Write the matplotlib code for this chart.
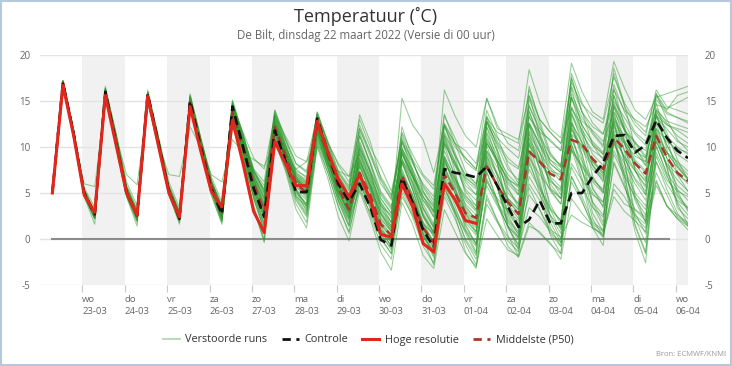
import numpy as np
import pandas as pd
import matplotlib
matplotlib.use("Agg")
import matplotlib.pyplot as plt
from matplotlib.patches import Rectangle

plt.rcParams['font.family'] = ['Open Sans', 'DejaVu Sans']

# time axis: 6-hourly from 22-03 07:00 local time
times = pd.date_range("2022-03-22 07:00", periods=61, freq="6h")

day_names = ["wo", "do", "vr", "za", "zo", "ma", "di", "wo", "do", "vr", "za", "zo", "ma", "di", "wo"]
day_dates = ["23-03", "24-03", "25-03", "26-03", "27-03", "28-03", "29-03", "30-03",
             "31-03", "01-04", "02-04", "03-04", "04-04", "05-04", "06-04"]

# controle run (black dashed)
control = [5.0, 17.0, 11.5,
           5.0, 2.7, 16.0, 10.5,
           5.0, 2.6, 15.8, 10.5,
           5.2, 2.2, 15.0, 10.0,
           5.5, 2.7, 14.4, 10.0,
           5.5, 2.4, 11.8, 8.5,
           5.1, 5.1, 13.1, 9.5,
           6.0, 4.1, 6.0, 3.5,
           -0.1, -0.7, 6.6, 4.0,
           1.0, -0.9, 7.6, 7.2,
           7.0, 6.7, 7.9, 5.8,
           3.5, 1.3, 2.1, 4.2,
           1.7, 1.7, 5.0, 5.0,
           6.8, 8.3, 11.2, 11.3,
           9.4, 10.2, 12.9, 11.0,
           9.6, 8.8]

# hoge resolutie run (red), ends after 10 days
hres = [5.0, 16.7, 11.3,
        4.8, 2.9, 15.6, 10.3,
        5.0, 2.6, 15.5, 10.2,
        5.0, 2.4, 14.4, 9.6,
        5.2, 3.5, 12.9, 8.2,
        3.0, 0.7, 10.6, 8.2,
        5.8, 5.8, 12.8, 9.5,
        6.5, 4.6, 7.0, 4.3,
        0.5, 0.2, 6.0, 3.5,
        -0.5, -1.4, 6.0, 4.3,
        2.0, 1.7]

# middelste (P50)
p50 = [5.0, 17.0, 11.5,
       5.0, 2.6, 15.9, 10.7,
       5.2, 2.5, 15.6, 10.5,
       5.3, 2.4, 15.0, 10.3,
       5.8, 2.9, 13.8, 10.0,
       6.0, 3.0, 12.2, 9.0,
       6.0, 5.0, 12.6, 9.2,
       5.6, 3.2, 7.2, 4.8,
       1.6, 0.4, 6.9, 4.2,
       1.2, -0.4, 7.0, 5.0,
       2.8, 2.3, 7.9, 5.8,
       4.0, 2.7, 9.5, 8.4,
       7.1, 6.5, 10.8, 10.3,
       8.7, 7.6, 11.0, 9.8,
       8.2, 7.1, 11.2, 8.9,
       7.2, 6.3]

# verstoorde runs (green)
perturbed = [
    [5.0, 17.0, 11.6, 5.1, 2.7, 16.0, 10.9, 5.2, 2.6, 15.7, 10.6, 5.4, 2.5, 15.2, 10.4, 5.9, 2.9, 14.0, 10.2,
     6.2, 3.2, 12.4, 9.2, 6.3, 5.2, 12.8, 9.4, 5.8, 3.6, 7.8, 5.2, 2.3, 0.8, 8.2, 5.4, 2.4, 0.2, 8.6, 6.0,
     3.4, 2.2, 8.8, 6.4, 4.4, 3.2, 10.2, 8.4, 6.8, 5.6, 11.4, 10.2, 8.6, 7.2, 11.8, 10.4, 8.4, 7.2, 11.6, 9.4,
     7.8, 6.6],
    [5.0, 16.8, 11.2, 4.8, 2.4, 15.8, 10.6, 5.0, 2.2, 15.4, 10.2, 5.0, 2.0, 14.8, 10.0, 5.4, 2.4, 13.2, 9.4,
     5.2, 1.8, 11.2, 8.2, 5.0, 3.8, 11.6, 8.4, 4.6, 2.2, 6.4, 3.8, 0.8, -0.8, 6.2, 3.6, 0.4, -1.6, 5.4, 3.2,
     1.0, -0.4, 5.8, 3.6, 1.4, 0.2, 6.8, 4.8, 2.6, 1.2, 7.8, 5.6, 3.4, 2.4, 9.2, 6.8, 4.6, 3.2, 8.4, 6.0,
     4.2, 3.4],
    [5.0, 17.1, 11.7, 5.2, 2.8, 16.4, 11.2, 5.6, 2.8, 15.9, 10.8, 5.6, 2.6, 15.6, 10.8, 6.4, 3.4, 14.8, 11.4,
     7.6, 5.0, 13.6, 10.8, 8.2, 7.4, 13.6, 10.6, 8.0, 6.2, 12.0, 9.0, 6.4, 4.2, 11.6, 9.2, 7.0, 5.8, 12.6, 10.4,
     9.6, 8.2, 13.2, 11.6, 11.0, 10.4, 18.4, 14.8, 12.0, 11.0, 19.1, 16.0, 13.8, 13.0, 19.3, 16.4, 14.0, 13.0,
     15.4, 15.8, 16.2, 16.6],
    [5.0, 16.9, 11.4, 4.6, 1.6, 15.4, 10.4, 4.6, 1.4, 15.0, 10.0, 4.8, 1.8, 14.4, 9.6, 4.8, 1.6, 12.8, 8.6,
     3.6, 0.0, 10.8, 7.6, 3.8, 1.8, 10.4, 7.2, 3.4, 0.8, 5.8, 2.6, -0.6, -2.2, 5.0, 2.4, -0.8, -2.6, 4.6, 2.2,
     -0.6, -2.8, 3.8, 1.8, -0.2, -1.4, 5.6, 3.2, 0.6, -0.8, 6.8, 4.6, 1.8, 1.0, 8.4, 5.8, 2.4, 1.2, 6.2, 3.6,
     2.2, 1.0],
    [5.0, 17.0, 11.5, 5.0, 2.6, 15.9, 10.9, 5.3, 2.7, 15.6, 10.4, 5.2, 2.3, 15.0, 10.2, 5.6, 2.6, 13.4, 9.6,
     5.4, 2.2, 11.8, 8.8, 5.8, 4.4, 12.4, 9.0, 5.2, 3.0, 7.0, 4.4, 1.6, 0.0, 7.4, 4.6, 1.4, -0.6, 7.4, 5.4,
     3.0, 1.6, 9.6, 7.2, 3.8, 2.2, 11.8, 9.4, 6.0, 4.4, 12.6, 10.6, 8.4, 7.0, 13.4, 10.8, 8.6, 7.4, 12.8, 10.2,
     8.2, 7.0],
    [5.0, 17.2, 11.8, 5.2, 2.9, 16.4, 11.4, 5.6, 3.0, 16.0, 11.0, 5.6, 2.8, 15.4, 10.8, 6.2, 3.4, 14.4, 10.8,
     6.8, 4.2, 13.0, 9.8, 6.6, 5.8, 13.2, 9.8, 6.4, 4.2, 10.2, 7.2, 4.0, 2.2, 10.0, 7.0, 4.2, 2.4, 10.6, 8.0,
     5.4, 4.2, 12.8, 10.2, 7.6, 6.4, 14.6, 11.6, 8.2, 7.2, 15.4, 12.4, 10.4, 9.2, 14.4, 12.0, 9.8, 8.4, 14.2, 12.6,
     11.2, 10.4],
    [5.0, 16.8, 11.2, 4.6, 2.2, 15.6, 10.6, 5.0, 2.2, 15.4, 10.4, 5.4, 2.8, 14.4, 9.8, 5.6, 2.4, 13.8, 10.4,
     6.4, 3.8, 12.2, 8.6, 5.4, 3.4, 12.0, 8.8, 5.0, 2.6, 6.6, 4.0, 1.2, -0.4, 7.0, 4.4, 1.8, -0.4, 6.8, 4.2,
     1.4, -0.6, 6.6, 4.0, 2.0, 0.6, 8.2, 5.6, 3.4, 2.0, 10.2, 7.4, 5.0, 3.6, 11.6, 8.8, 6.4, 4.8, 10.6, 8.0,
     6.4, 5.2],
    [5.0, 16.6, 11.0, 6.0, 5.7, 15.0, 11.2, 7.0, 5.9, 14.6, 10.4, 7.0, 6.8, 12.2, 10.0, 7.0, 6.2, 10.8, 9.4,
     8.6, 7.9, 10.6, 8.6, 7.6, 8.4, 11.0, 8.0, 7.4, 6.8, 9.2, 6.0, 3.2, 1.8, 9.6, 7.0, 5.0, 3.6, 10.4, 8.0,
     6.6, 5.8, 12.6, 10.4, 8.4, 7.6, 13.2, 11.6, 10.8, 9.6, 16.6, 13.8, 12.2, 11.4, 16.2, 14.0, 13.0, 12.2,
     14.6, 14.2, 14.8, 15.4],
    [5.0, 17.1, 11.6, 5.0, 2.5, 16.0, 11.0, 5.4, 2.7, 15.7, 10.8, 5.6, 2.8, 15.3, 10.6, 6.0, 3.0, 14.2, 10.8,
     6.6, 3.6, 12.8, 9.6, 6.4, 5.6, 12.6, 9.6, 6.2, 4.4, 8.6, 6.0, 3.6, 2.6, 15.3, 12.4, 10.8, 7.2, 12.4, 10.4,
     8.8, 7.6, 11.6, 9.0, 7.0, 5.8, 13.8, 11.2, 9.2, 8.0, 15.8, 13.2, 11.4, 10.0, 16.8, 13.8, 11.6, 10.6,
     14.0, 12.8, 12.4, 12.0],
    [5.0, 17.0, 11.4, 5.0, 2.6, 15.8, 10.8, 5.2, 2.4, 15.4, 10.4, 5.4, 2.6, 15.0, 10.6, 6.0, 3.0, 13.6, 10.0,
     5.8, 2.6, 11.6, 8.8, 6.0, 4.6, 12.2, 9.2, 5.6, 3.4, 9.4, 6.8, 4.0, 2.4, 9.8, 7.6, 5.2, 3.4, 16.2, 13.4,
     11.2, 10.0, 15.3, 12.0, 11.4, 10.8, 15.6, 13.0, 11.6, 10.4, 14.2, 12.4, 10.6, 9.4, 15.6, 12.6, 10.4, 8.8,
     13.4, 12.4, 12.0, 11.6],
    [5.0, 16.9, 11.3, 4.8, 2.2, 15.6, 10.6, 4.8, 2.0, 15.2, 10.2, 5.0, 2.0, 14.6, 10.0, 5.2, 2.0, 13.2, 9.2,
     4.4, 1.0, 11.4, 8.4, 4.6, 2.8, 11.4, 7.8, 4.0, 1.4, 6.0, 3.4, 0.2, -1.6, 6.6, 3.6, 0.6, -1.8, 6.2, 3.0,
     0.0, -1.8, 7.4, 4.2, 1.2, -0.6, 9.6, 6.0, 2.6, 0.6, 11.2, 7.4, 4.0, 2.6, 11.0, 6.2, 0.8, -2.6, 9.4, 6.8,
     4.6, 3.2],
    [5.0, 17.0, 11.6, 5.0, 2.6, 16.1, 11.0, 5.4, 2.6, 15.6, 10.6, 5.4, 2.4, 15.2, 10.4, 5.8, 2.8, 14.4, 10.6,
     6.8, 4.6, 13.0, 10.0, 7.2, 6.4, 12.2, 8.8, 6.2, 4.0, 8.0, 5.4, 2.6, 1.0, 8.6, 6.2, 3.4, 1.4, 9.0, 6.4,
     4.2, 3.0, 10.4, 8.6, 6.4, 5.8, 9.6, 8.4, 7.4, 7.0, 13.6, 11.4, 9.6, 8.8, 12.8, 10.6, 9.0, 8.4, 12.0, 10.6,
     9.8, 9.4],
    [5.0, 16.8, 11.2, 4.8, 2.2, 15.6, 10.4, 4.6, 1.8, 15.2, 10.0, 4.8, 1.6, 14.6, 9.6, 4.8, 1.8, 12.8, 8.4,
     3.4, -0.4, 10.6, 7.4, 3.2, 1.2, 10.0, 6.6, 2.4, -0.2, 5.2, 2.2, -1.4, -3.4, 4.0, 1.6, -1.8, -3.2, 3.2, 0.8,
     -1.6, -3.0, 2.2, 0.4, -1.2, -1.8, 1.8, 0.6, -0.4, -2.2, 4.4, 2.8, 1.4, 0.2, 6.0, 4.6, 2.6, 1.6, 7.2, 4.8,
     2.4, 1.6],
    [5.0, 17.2, 11.8, 5.2, 2.8, 16.2, 11.2, 5.6, 2.8, 15.8, 10.8, 5.4, 2.6, 15.4, 10.8, 6.2, 3.2, 14.8, 11.0,
     7.2, 5.0, 13.4, 10.2, 7.4, 6.8, 13.8, 10.4, 7.2, 5.6, 11.2, 8.2, 5.0, 3.4, 11.4, 8.4, 5.6, 3.8, 12.4, 9.4,
     6.4, 5.4, 13.4, 10.6, 8.8, 7.8, 12.6, 10.4, 8.6, 7.8, 17.4, 13.8, 11.6, 10.2, 18.0, 14.4, 12.4, 11.2,
     16.2, 14.4, 14.0, 13.6],
    [5.0, 17.0, 11.6, 5.0, 2.7, 15.8, 10.8, 5.0, 2.4, 15.6, 10.6, 5.2, 2.4, 15.0, 10.2, 5.6, 2.6, 13.6, 9.6,
     5.6, 2.4, 12.2, 9.0, 5.6, 4.8, 12.8, 9.2, 5.6, 3.2, 7.2, 4.6, 1.8, 0.4, 7.6, 4.8, 1.6, -0.4, 7.6, 5.0,
     2.6, 1.2, 6.2, 4.4, 3.0, 2.0, 10.4, 7.8, 5.2, 3.8, 9.6, 7.8, 6.2, 5.0, 12.2, 9.6, 7.4, 5.8, 13.4, 10.2,
     8.0, 6.6],
    [5.0, 17.1, 11.7, 5.0, 2.4, 16.2, 11.0, 5.4, 2.6, 15.9, 10.6, 5.2, 2.2, 15.4, 10.4, 5.8, 2.8, 14.0, 10.4,
     6.6, 4.0, 12.6, 9.4, 6.6, 5.4, 13.0, 9.6, 6.0, 4.0, 10.6, 7.6, 4.4, 2.8, 9.2, 6.8, 3.2, 1.2, 10.8, 8.4,
     6.2, 4.8, 9.4, 7.0, 4.2, 2.8, 11.4, 9.4, 7.6, 6.2, 12.0, 10.0, 8.0, 6.8, 14.6, 11.8, 10.4, 9.6, 15.6, 13.8,
     13.2, 12.8],
    [5.0, 16.8, 11.4, 4.8, 2.6, 15.4, 10.4, 4.8, 2.0, 15.4, 10.2, 5.0, 2.2, 14.2, 9.4, 5.2, 2.0, 13.0, 8.8,
     3.2, -0.2, 11.0, 8.0, 4.6, 3.6, 11.8, 8.4, 5.0, 3.2, 6.8, 4.2, 1.0, -0.2, 8.4, 5.4, 1.8, 0.4, 8.0, 5.0,
     2.0, 0.8, 7.8, 5.6, 2.8, 1.2, 6.0, 4.2, 2.0, 1.4, 8.2, 6.4, 4.8, 4.0, 10.6, 7.6, 5.0, 3.6, 10.0, 7.2,
     5.4, 4.2],
    [5.0, 17.2, 12.0, 5.6, 3.4, 16.4, 11.6, 6.2, 3.6, 16.0, 11.2, 6.2, 3.4, 15.2, 11.0, 6.8, 4.0, 14.4, 11.6,
     8.8, 7.6, 13.4, 11.2, 9.0, 8.4, 13.4, 10.4, 8.2, 6.8, 13.0, 10.0, 7.8, 5.2, 10.6, 8.6, 6.8, 5.4, 12.2, 10.0,
     8.8, 7.6, 12.8, 11.0, 9.8, 8.8, 14.4, 12.0, 10.6, 9.6, 15.4, 12.8, 11.8, 10.6, 13.8, 11.8, 10.6, 9.0,
     15.2, 13.6, 13.2, 12.6],
    [5.0, 17.0, 11.5, 5.0, 2.5, 15.8, 10.8, 5.2, 2.4, 15.5, 10.4, 5.4, 2.6, 14.8, 10.2, 5.8, 2.8, 13.8, 10.0,
     6.0, 3.0, 12.6, 9.2, 6.4, 5.4, 12.4, 9.0, 5.8, 3.6, 8.2, 5.6, 2.8, 1.2, 7.2, 4.8, 1.2, -0.2, 7.8, 5.4,
     3.2, 1.8, 8.2, 5.8, 3.0, 1.4, 7.6, 5.4, 3.2, 2.0, 10.8, 8.4, 6.6, 5.2, 10.4, 8.2, 6.0, 4.2, 12.0, 9.4,
     7.8, 6.4],
    [5.0, 16.9, 11.6, 5.2, 2.9, 16.0, 11.0, 5.4, 2.8, 15.4, 10.6, 5.6, 2.8, 15.2, 10.6, 6.0, 3.0, 14.4, 10.8,
     7.2, 5.4, 12.2, 9.2, 6.4, 5.0, 11.0, 8.2, 5.6, 3.8, 8.4, 5.8, 2.8, 0.8, 6.6, 4.2, 1.6, 0.6, 9.0, 6.6,
     4.4, 3.2, 10.6, 8.2, 5.4, 3.8, 12.6, 10.2, 8.2, 7.2, 11.8, 9.8, 7.6, 6.4, 13.2, 10.4, 8.2, 6.6, 11.2, 8.8,
     7.2, 6.0],
    [5.0, 17.0, 11.3, 4.8, 2.4, 15.6, 10.6, 5.0, 2.2, 15.2, 10.2, 5.2, 2.4, 14.6, 10.0, 5.6, 2.4, 13.4, 9.8,
     5.8, 2.8, 11.4, 8.6, 5.4, 4.2, 11.8, 8.2, 4.6, 2.4, 7.0, 4.2, 1.0, -0.8, 5.8, 3.4, 0.8, -1.0, 5.6, 3.0,
     -0.2, -2.2, 4.4, 2.0, 0.2, -1.0, 3.4, 2.4, 0.8, -0.4, 6.2, 4.0, 1.6, 0.8, 5.4, 3.8, 3.2, 2.0, 6.4, 3.6,
     2.2, 1.4],
    [5.0, 17.1, 11.8, 5.4, 3.0, 16.2, 11.4, 5.8, 3.2, 15.8, 11.0, 5.8, 3.0, 15.6, 11.0, 6.4, 3.6, 15.0, 11.2,
     7.4, 5.2, 14.0, 10.8, 7.6, 6.6, 13.8, 10.6, 7.4, 5.8, 12.0, 9.4, 6.8, 4.8, 10.4, 8.2, 6.0, 4.6, 13.4, 11.0,
     8.4, 7.4, 15.3, 12.4, 10.4, 9.6, 16.2, 13.0, 11.6, 10.4, 17.0, 14.6, 13.4, 12.6, 17.6, 14.8, 12.8, 11.6,
     15.8, 14.0, 15.6, 16.0],
    [5.0, 16.9, 11.4, 4.8, 2.4, 15.8, 10.6, 5.0, 2.2, 15.2, 10.2, 5.0, 2.2, 14.6, 9.8, 5.4, 2.2, 13.4, 9.6,
     5.0, 1.6, 11.6, 8.8, 5.4, 3.6, 11.8, 8.6, 5.2, 2.8, 6.2, 3.6, 0.6, -1.2, 5.4, 2.8, 0.0, -2.8, 5.8, 2.6,
     -1.4, -3.2, 4.8, 2.0, -0.8, -2.0, 1.4, 0.8, -0.6, -1.6, 6.8, 4.2, 1.2, 0.4, 8.2, 5.6, 3.2, 2.4, 9.0, 6.4,
     5.2, 4.6],
    [5.0, 17.0, 11.6, 5.0, 2.6, 16.0, 10.8, 5.2, 2.5, 15.6, 10.5, 5.2, 2.4, 15.0, 10.4, 5.8, 2.8, 13.4, 9.6,
     5.2, 2.6, 12.4, 9.4, 6.0, 5.0, 12.6, 9.2, 5.8, 3.8, 9.2, 6.4, 3.8, 1.8, 8.8, 6.0, 2.6, 0.6, 8.4, 6.2,
     3.8, 2.6, 12.2, 9.6, 6.6, 4.8, 11.0, 8.8, 6.4, 5.2, 13.4, 11.0, 8.4, 7.2, 10.8, 9.0, 7.4, 6.4, 13.6, 11.0,
     9.2, 8.4],
    [5.0, 17.2, 11.9, 5.4, 3.0, 16.6, 11.4, 5.8, 3.2, 16.2, 11.2, 5.8, 3.0, 15.8, 11.0, 6.4, 3.6, 15.1, 11.4,
     7.0, 4.4, 13.8, 10.4, 7.0, 6.0, 13.6, 10.2, 6.8, 5.2, 13.5, 10.6, 6.6, 4.6, 9.8, 7.4, 4.6, 3.0, 11.4, 9.0,
     7.0, 6.0, 9.6, 7.8, 6.0, 4.8, 15.2, 12.4, 9.0, 8.0, 18.0, 14.8, 12.6, 11.4, 15.0, 13.2, 11.4, 10.2,
     13.8, 12.4, 11.8, 11.0],
    [5.0, 16.8, 11.3, 4.8, 2.3, 15.6, 10.5, 5.0, 2.3, 15.2, 10.2, 5.0, 2.1, 14.4, 9.8, 5.4, 2.4, 12.2, 8.8,
     4.8, 1.4, 10.8, 8.0, 4.4, 2.6, 10.6, 7.8, 4.2, 2.0, 5.4, 2.8, 0.4, -1.0, 4.6, 2.6, 0.2, -1.2, 5.0, 2.8,
     0.8, -0.8, 6.4, 3.8, 1.4, 0.0, 4.8, 3.2, 1.0, 0.2, 2.6, 1.8, 1.2, 0.6, 4.6, 3.0, 2.0, 0.8, 5.8, 3.6,
     2.6, 1.8],
    [5.0, 17.0, 11.5, 5.1, 2.7, 16.0, 10.9, 5.3, 2.6, 15.7, 10.6, 5.4, 2.5, 15.2, 10.4, 6.0, 3.0, 14.0, 10.2,
     6.2, 3.4, 12.6, 9.4, 6.6, 5.6, 13.0, 9.6, 6.0, 4.0, 8.4, 5.8, 2.8, 1.2, 8.4, 5.8, 2.6, 0.6, 7.0, 5.0,
     2.8, 1.4, 9.0, 7.0, 4.4, 3.2, 8.8, 7.0, 5.4, 4.4, 9.8, 8.0, 6.4, 5.4, 11.4, 8.8, 6.6, 5.2, 10.6, 8.2,
     7.0, 6.2],
    [5.0, 17.1, 11.7, 5.2, 2.8, 16.2, 11.1, 5.4, 2.7, 15.8, 10.8, 5.6, 2.8, 15.4, 10.6, 6.0, 3.2, 14.2, 10.4,
     6.4, 3.8, 12.8, 9.6, 6.8, 5.8, 12.4, 9.0, 6.2, 4.4, 10.0, 7.4, 3.6, 1.8, 9.4, 6.8, 4.2, 2.8, 11.6, 9.2,
     6.8, 5.6, 11.0, 8.6, 5.0, 3.8, 10.6, 8.6, 6.2, 5.4, 14.4, 11.8, 10.2, 9.2, 12.4, 10.4, 7.8, 6.2, 12.8, 11.2,
     10.0, 9.2],
    [5.0, 16.9, 11.4, 5.0, 2.5, 15.8, 10.7, 5.2, 2.4, 15.4, 10.3, 5.2, 2.3, 14.8, 10.0, 5.6, 2.6, 13.0, 9.4,
     5.4, 2.2, 11.8, 8.8, 5.2, 3.8, 11.8, 8.6, 5.0, 2.8, 7.4, 4.6, 1.4, -0.4, 6.8, 4.2, 1.0, -0.8, 6.4, 4.0,
     1.8, 0.4, 8.4, 5.6, 2.2, 0.8, 12.4, 9.6, 5.6, 4.4, 12.2, 9.2, 5.4, 4.0, 9.6, 7.2, 4.4, 2.6, 10.8, 8.0,
     5.8, 4.8],
    [5.0, 17.0, 11.6, 5.0, 2.6, 15.9, 10.8, 5.2, 2.5, 15.6, 10.5, 5.4, 2.5, 14.8, 10.4, 6.2, 3.4, 13.8, 10.4,
     7.4, 5.8, 12.4, 9.6, 6.6, 5.2, 11.8, 9.0, 6.0, 4.2, 11.2, 8.4, 5.2, 3.6, 8.6, 6.8, 4.6, 2.4, 8.2, 6.6,
     4.6, 3.6, 10.4, 8.4, 6.6, 5.6, 13.4, 11.0, 8.6, 7.4, 12.6, 10.4, 8.0, 6.6, 14.8, 12.0, 9.4, 8.0, 11.2, 9.4,
     8.4, 7.4],
    [5.0, 17.0, 11.6, 5.0, 2.6, 16.0, 11.0, 5.2, 2.6, 15.7, 10.6, 5.4, 2.6, 15.2, 10.5, 6.0, 3.0, 14.6, 10.6,
     7.0, 4.8, 13.2, 9.8, 6.8, 5.4, 12.2, 8.6, 5.4, 2.4, 10.4, 7.2, 3.4, 1.4, 10.8, 7.6, 3.8, 1.6, 9.6, 7.0,
     3.6, 2.0, 11.4, 8.2, 3.6, 1.2, 11.0, 7.6, 3.8, 1.6, 13.8, 10.4, 5.6, 3.4, 14.4, 10.6, 4.8, 1.8, 13.6, 9.8,
     5.2, 3.0],
    [5.0, 16.9, 11.4, 4.9, 2.5, 15.8, 10.6, 5.1, 2.4, 15.4, 10.4, 5.2, 2.2, 14.8, 10.0, 5.6, 2.4, 13.6, 9.8,
     6.0, 3.4, 12.0, 8.8, 5.2, 3.0, 11.4, 7.8, 4.8, 2.2, 8.8, 5.6, 1.6, 0.2, 9.4, 6.2, 2.4, 0.8, 8.8, 5.8,
     1.6, -0.6, 10.2, 6.8, 1.4, -1.2, 9.2, 5.8, 1.2, -0.8, 12.6, 8.6, 3.6, 1.4, 12.8, 8.4, 2.2, -0.4, 11.8, 7.8,
     3.4, 2.2],
    [5.0, 17.1, 11.6, 5.1, 2.8, 16.1, 11.0, 5.4, 2.8, 15.8, 10.7, 5.5, 2.7, 15.3, 10.6, 6.0, 3.2, 14.6, 10.8,
     6.8, 4.4, 13.6, 10.2, 7.0, 6.2, 12.0, 8.6, 5.8, 3.6, 11.6, 8.2, 4.4, 2.8, 12.2, 8.6, 5.2, 3.0, 11.2, 8.4,
     5.2, 3.6, 13.2, 9.8, 5.6, 3.4, 15.6, 11.4, 6.6, 4.8, 16.4, 12.2, 8.0, 6.2, 15.6, 11.8, 7.6, 4.8, 14.0, 11.6,
     8.6, 6.4],
    [5.0, 17.0, 11.5, 5.0, 2.6, 15.9, 10.8, 5.2, 2.5, 15.6, 10.5, 5.3, 2.4, 15.0, 10.2, 5.8, 2.6, 13.2, 9.4,
     4.6, 1.0, 11.4, 8.8, 6.2, 5.6, 11.8, 8.4, 4.6, 1.6, 9.6, 6.4, 2.0, 0.4, 8.4, 5.4, 1.2, -1.0, 8.8, 5.4,
     1.0, -1.4, 7.2, 4.2, 0.4, -1.9, 8.6, 5.0, 0.4, -1.6, 10.4, 6.6, 2.2, 0.2, 11.2, 7.0, 1.6, -1.4, 10.2, 7.0,
     4.0, 2.6],
    [5.0, 17.2, 11.8, 5.3, 2.9, 16.3, 11.2, 5.6, 2.9, 15.9, 10.9, 5.6, 2.8, 15.5, 10.8, 6.2, 3.4, 14.6, 11.2,
     7.6, 6.2, 14.0, 11.0, 8.2, 7.2, 13.0, 9.6, 7.0, 4.8, 12.4, 9.4, 6.0, 4.4, 11.0, 8.4, 5.8, 4.2, 13.6, 10.4,
     7.4, 6.0, 14.0, 11.2, 8.0, 6.0, 16.6, 12.8, 9.4, 7.8, 17.6, 13.8, 10.2, 8.6, 18.6, 14.6, 10.0, 8.0, 15.8, 13.0,
     10.8, 9.6],
    [5.0, 16.8, 11.3, 4.8, 2.4, 15.6, 10.5, 5.0, 2.2, 15.2, 10.2, 5.1, 2.3, 14.6, 9.8, 5.4, 2.2, 12.8, 9.0,
     4.8, 1.6, 11.0, 8.2, 4.8, 3.2, 10.8, 7.6, 4.2, 1.4, 8.0, 5.0, 1.0, -0.8, 7.0, 4.2, 0.6, -1.4, 10.2, 6.8,
     2.4, 0.6, 8.6, 5.6, 1.8, 0.2, 11.6, 7.6, 2.4, 0.0, 9.8, 6.2, 1.2, -0.7, 12.6, 8.4, 2.8, 0.6, 11.4, 7.8,
     3.8, 1.6],
    [5.0, 17.0, 11.6, 5.1, 2.7, 16.0, 10.9, 5.3, 2.6, 15.7, 10.6, 5.4, 2.5, 15.1, 10.4, 5.8, 2.8, 14.2, 10.4,
     6.4, 3.6, 13.0, 9.8, 6.8, 6.0, 11.4, 8.2, 5.4, 3.0, 9.8, 6.8, 3.0, 1.4, 9.6, 6.6, 2.8, 0.8, 12.4, 9.0,
     4.8, 3.2, 12.8, 9.4, 4.4, 2.6, 14.0, 10.6, 5.4, 3.8, 15.4, 11.6, 6.8, 5.0, 16.4, 12.2, 7.4, 5.6, 14.8, 11.0,
     7.0, 5.2],
    [5.0, 16.9, 11.5, 5.0, 2.5, 15.9, 10.7, 5.1, 2.4, 15.5, 10.3, 5.2, 2.3, 14.9, 10.1, 5.7, 2.7, 13.6, 9.8,
     5.8, 2.6, 12.4, 9.4, 6.4, 5.0, 12.2, 8.8, 5.2, 2.8, 8.8, 5.8, 2.2, 0.8, 10.6, 7.2, 3.4, 1.2, 11.2, 7.4,
     2.8, 0.8, 12.2, 8.4, 2.6, 0.4, 12.4, 8.6, 3.2, 1.0, 13.0, 9.2, 4.0, 1.8, 13.8, 9.6, 4.2, 1.8, 12.6, 8.8,
     4.8, 3.4],
    [5.0, 17.1, 11.7, 5.2, 2.8, 16.2, 11.2, 5.5, 2.8, 15.9, 10.8, 5.6, 2.8, 15.4, 10.7, 6.2, 3.4, 14.8, 11.2,
     7.4, 5.4, 13.4, 10.2, 7.2, 6.2, 13.2, 10.0, 7.2, 5.4, 9.8, 7.4, 4.8, 3.2, 9.2, 7.0, 4.6, 3.0, 10.4, 8.2,
     5.8, 4.8, 10.8, 8.6, 6.2, 5.2, 12.6, 10.2, 7.8, 6.6, 14.2, 11.6, 9.2, 8.0, 13.0, 11.2, 9.6, 8.8, 13.2, 12.0,
     10.6, 10.0],
    [5.0, 16.9, 11.3, 4.7, 2.2, 15.6, 10.4, 4.8, 2.0, 15.2, 10.0, 4.9, 1.9, 14.4, 9.6, 5.2, 2.0, 12.6, 8.8,
     4.4, 0.8, 10.4, 7.8, 4.2, 2.4, 10.2, 7.2, 3.6, 0.6, 6.2, 3.4, 0.0, -1.6, 6.8, 3.8, 0.4, -2.0, 6.6, 3.6,
     0.6, -1.6, 9.2, 5.6, 1.4, -0.8, 10.4, 6.4, 1.8, -0.4, 11.4, 7.6, 2.8, 0.8, 10.6, 6.8, 1.4, -1.6, 8.4, 5.4,
     2.8, 1.4],
]

W, H = 732, 366
fig = plt.figure(figsize=(W / 100, H / 100), dpi=100)
ax = fig.add_axes([40 / W, 81 / H, 648 / W, 230 / H])

t0 = pd.Timestamp("2022-03-22 00:00")
tick_pos = [t0 + pd.Timedelta(days=i + 1) for i in range(len(day_names))]

# alternating grey day bands
for i in range(0, len(tick_pos), 2):
    ax.axvspan(tick_pos[i], tick_pos[i] + pd.Timedelta(days=1), color="#f1f1f1", lw=0, zorder=0)

for yv in range(-5, 21, 5):
    ax.axhline(yv, color="#e3e3e3", lw=1, zorder=1)

ax.plot([times[0], pd.Timestamp("2022-04-05 20:00")], [0, 0], color="#8c8c8c", lw=1.5, zorder=2)

for run in perturbed:
    ax.plot(times, run, color="#2e9a2e", lw=0.75, alpha=0.5, zorder=3)

ax.plot(times, p50, color="#a8382c", lw=1.8, ls=(0, (3.5, 2)), zorder=4)
ax.plot(times, control, color="#111111", lw=1.9, ls=(0, (3.5, 2)), zorder=5)
ax.plot(times[:len(hres)], hres, color="#e3261c", lw=2.2, zorder=6)

ax.set_xlim(t0, times[-1])
ax.set_ylim(-5, 20)
for s in ax.spines.values():
    s.set_visible(False)

ax.set_xticks(tick_pos)
ax.set_xticklabels([f"{d}\n{dt}" for d, dt in zip(day_names, day_dates)],
                   ha="left", fontsize=6.8, color="#666666", linespacing=1.45)
ax.tick_params(axis="x", length=5, color="#c8c8c8", pad=2)

ax.set_yticks(range(-5, 21, 5))
ax.set_yticklabels([str(v) for v in range(-5, 21, 5)], fontsize=7, color="#666666")
ax.tick_params(axis="y", length=0, pad=7)

ax2 = ax.twinx()
ax2.set_ylim(-5, 20)
ax2.set_yticks(range(-5, 21, 5))
ax2.set_yticklabels([str(v) for v in range(-5, 21, 5)], fontsize=7, color="#666666")
ax2.tick_params(axis="y", length=0, pad=12)
for s in ax2.spines.values():
    s.set_visible(False)

fig.text(366 / W, 1 - 16 / H, "Temperatuur (˚C)", ha="center", va="center", fontsize=13, color="#333333")
fig.text(366 / W, 1 - 36 / H, "De Bilt, dinsdag 22 maart 2022 (Versie di 00 uur)",
         ha="center", va="center", fontsize=8.3, color="#666666")

handles = [
    plt.Line2D([], [], color="#a9d6a9", lw=1.2),
    plt.Line2D([], [], color="#111111", lw=2, ls=(0, (3, 2))),
    plt.Line2D([], [], color="#e3261c", lw=2.2),
    plt.Line2D([], [], color="#a8382c", lw=2, ls=(0, (3, 2))),
]
labels = ["Verstoorde runs", "Controle", "Hoge resolutie", "Middelste (P50)"]
leg = fig.legend(handles, labels, loc="center", bbox_to_anchor=(368 / W, 1 - 340 / H), ncol=4,
                 frameon=False, fontsize=7.8, handlelength=1.6, handletextpad=0.5, columnspacing=1.3)
for txt in leg.get_texts():
    txt.set_color("#333333")

fig.text(726 / W, 1 - 355 / H, "Bron: ECMWF/KNMI", ha="right", va="center", fontsize=5.5, color="#999999")

fig.patches.append(Rectangle((0.001, 0.002), 0.997, 0.995, transform=fig.transFigure,
                             fill=False, edgecolor="#b4c9de", lw=1.5))

fig.savefig("out.png", dpi=100)
